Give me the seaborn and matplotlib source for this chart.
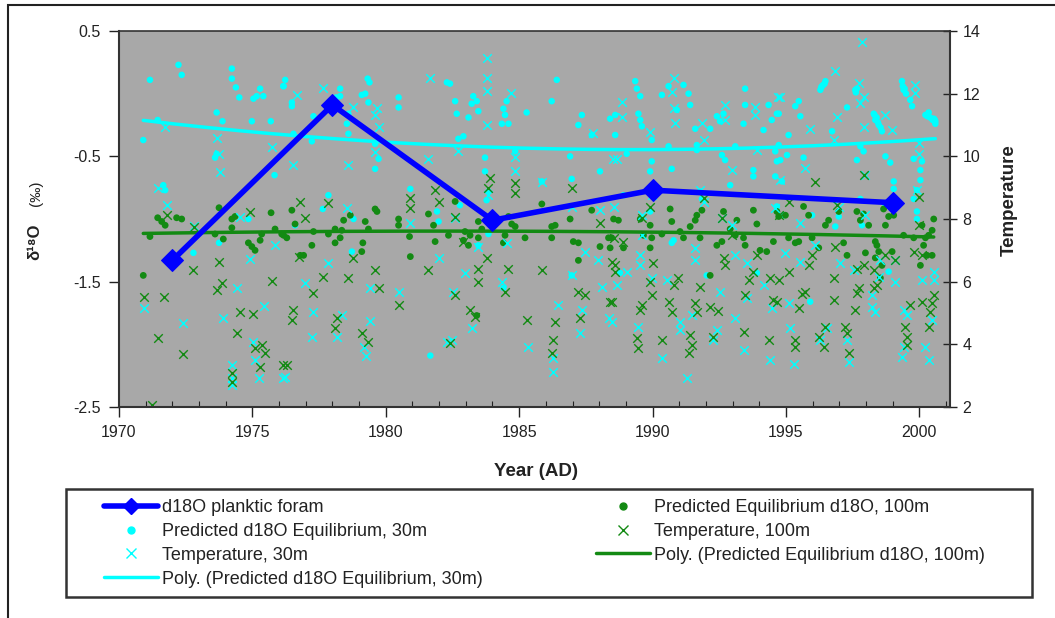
import numpy as np
import pandas as pd
import matplotlib
matplotlib.use("Agg")
import matplotlib.pyplot as plt
import seaborn as sns
from matplotlib.patches import Rectangle
from matplotlib.lines import Line2D

# ---------------- data ----------------
foram_year = [1972, 1978, 1984, 1990, 1999]
foram_d18o = [-1.33, -0.09, -1.01, -0.77, -0.87]

eq30_year = [1971.16, 1972.23, 1972.35, 1974.23, 1974.23, 1974.38, 1974.51, 1975.04, 1975.16, 1975.29, 1975.41, 1976.16,
             1973.66, 1973.88, 1974.98, 1975.69, 1971.45, 1970.91, 1971.66, 1971.73, 1973.60, 1973.66, 1975.83, 1974.85,
             1973.75, 1972.79,
             1976.23, 1976.17, 1976.48, 1976.48, 1977.29, 1978.29, 1978.29, 1978.14, 1979.10, 1979.23, 1979.32, 1979.39,
             1979.35, 1978.60, 1978.54, 1978.60, 1977.23, 1976.54, 1980.48, 1980.48, 1979.60, 1979.73, 1979.60, 1982.29,
             1980.92, 1981.92, 1981.98, 1977.64, 1977.85, 1978.79, 1976.60, 1978.73, 1981.67,
             1982.41, 1982.60, 1982.66, 1983.10, 1983.28, 1983.41, 1983.47, 1983.22, 1984.41, 1984.47, 1984.35, 1984.53,
             1984.60, 1985.28, 1986.41, 1986.22, 1987.35, 1987.22, 1988.41, 1987.72, 1982.72, 1982.91, 1983.72, 1983.72,
             1984.85, 1985.85, 1986.91, 1986.97, 1988.03, 1983.85, 1983.78, 1982.78, 1983.85, 1983.47, 1986.97, 1984.41,
             1989.35, 1989.41, 1989.54, 1989.47, 1989.54, 1989.60, 1989.97, 1990.35, 1990.60, 1991.16, 1991.35, 1991.41,
             1990.91, 1991.60, 1992.16, 1992.41, 1992.66, 1992.53, 1993.47, 1993.47, 1993.41, 1994.35, 1994.47, 1994.66,
             1994.16, 1988.60, 1988.60, 1989.03, 1989.97, 1989.91, 1990.72, 1990.60, 1991.66, 1991.66, 1992.60, 1992.72,
             1993.10, 1994.60, 1994.66, 1993.78, 1993.78, 1994.60, 1992.91, 1991.78, 1991.85, 1988.91, 1990.72, 1990.79,
             1989.91, 1988.78, 1992.03, 1993.91,
             1994.73, 1995.10, 1995.54, 1995.35, 1995.48, 1996.29, 1996.48, 1996.35, 1996.73, 1997.29, 1997.60, 1997.66,
             1998.29, 1998.35, 1998.48, 1998.60, 1999.35, 1999.41, 1999.66, 1999.73, 2000.23, 2000.48, 2000.60, 1994.73,
             1995.04, 1995.66, 1997.66, 1997.79, 1997.91, 1998.73, 1998.91, 1999.79, 2000.10, 2000.04, 2000.04, 1999.04,
             1999.04, 1999.91, 1999.79, 1999.91, 1999.91, 1994.79, 1994.85, 1994.66, 1994.91, 1995.98, 1996.98, 1996.85,
             1997.85, 1998.73, 1995.91, 1998.85, 1996.85, 1997.79,
             1998.32, 1998.40, 1998.45, 1998.55, 2000.30, 2000.40, 2000.50, 2000.55, 2000.60, 1999.38, 1999.50, 1996.40,
             1996.32, 1996.45, 1997.62, 1999.45, 2000.35, 2000.58]
eq30_d18o = [0.11, 0.23, 0.15, 0.20, 0.12, 0.05, -0.03, -0.04, -0.02, 0.04, -0.02, 0.06,
             -0.15, -0.22, -0.22, -0.22, -0.21, -0.37, -0.73, -0.77, -0.51, -0.48, -0.65, -1.00,
             -1.19, -1.27,
             0.11, 0.06, -0.07, -0.10, -0.18, 0.04, -0.02, -0.03, -0.01, 0.00, 0.12, 0.09,
             -0.07, -0.16, -0.24, -0.32, -0.38, -0.32, -0.03, -0.11, -0.40, -0.52, -0.60, 0.09,
             -0.76, -0.94, -1.02, -0.92, -0.81, -1.00, -1.05, -1.26, -2.09,
             0.08, -0.06, -0.16, -0.19, -0.02, -0.06, -0.14, -0.08, -0.12, -0.17, -0.24, -0.06,
             -0.24, -0.15, 0.11, -0.06, -0.17, -0.25, -0.20, -0.33, -0.36, -0.34, -0.51, -0.62,
             -0.46, -0.70, -0.50, -0.68, -0.62, -0.78, -0.85, -0.89, -1.12, -1.21, -1.45, -1.55,
             0.10, 0.04, -0.02, -0.16, -0.21, -0.26, -0.37, -0.01, 0.06, 0.07, 0.00, -0.09,
             -0.13, -0.28, -0.28, -0.18, -0.16, -0.22, 0.04, -0.09, -0.24, -0.09, -0.21, -0.16,
             -0.29, -0.17, -0.33, -0.48, -0.54, -0.62, -0.60, -0.42, -0.41, -0.45, -0.49, -0.53,
             -0.42, -0.46, -0.54, -0.61, -0.66, -0.66, -0.73, -0.78, -0.84, -0.81, -1.19, -1.17,
             -0.94, -1.43, -1.45, -1.43,
             -0.16, -0.33, -0.18, -0.10, -0.06, 0.03, 0.10, 0.06, -0.30, -0.11, 0.03, 0.04,
             -0.16, -0.21, -0.25, -0.30, 0.10, 0.03, -0.05, -0.10, -0.17, -0.20, -0.22, -0.41,
             -0.49, -0.51, -0.53, -0.42, -0.46, -0.50, -0.55, -0.52, -0.54, -0.61, -0.69, -0.70,
             -0.76, -0.77, -0.84, -0.94, -1.00, -0.53, -0.70, -0.90, -0.97, -0.97, -0.98, -1.06,
             -1.05, -0.89, -1.66, -1.42, -0.85, -0.84,
             -0.17, -0.19, -0.23, -0.27, -0.18, -0.19, -0.21, -0.20, -0.24, 0.06, 0.00, 0.07,
             0.05, 0.08, 0.01, 0.04, -0.15, -0.21]

eq100_year = [1970.91, 1971.16, 1971.45, 1971.60, 1971.73, 1972.16, 1972.35, 1973.75, 1973.91, 1974.23, 1974.35, 1974.23,
              1973.60, 1974.85, 1974.98, 1975.10, 1975.29, 1975.35, 1975.70, 1975.85, 1976.10,
              1976.48, 1976.60, 1976.17, 1976.29, 1976.79, 1976.92, 1977.29, 1977.23, 1977.85, 1978.10, 1978.29, 1978.35,
              1978.10, 1978.42, 1978.67, 1979.14, 1979.10, 1979.23, 1979.35, 1979.60, 1979.67, 1980.48, 1980.48, 1980.92,
              1980.89, 1981.60, 1981.85, 1981.79,
              1982.60, 1982.35, 1982.97, 1983.16, 1983.47, 1983.60, 1983.10, 1982.91, 1983.47, 1984.47, 1984.41, 1984.60,
              1984.72, 1984.85, 1985.22, 1985.85, 1986.22, 1986.35, 1986.22, 1986.91, 1987.03, 1987.22, 1987.22, 1987.72,
              1988.03, 1988.35, 1988.41, 1983.41, 1983.85,
              1988.54, 1988.72, 1988.91, 1988.47, 1989.54, 1989.66, 1989.91, 1989.97, 1989.91, 1990.35, 1990.66, 1990.72,
              1991.03, 1991.16, 1991.41, 1991.60, 1991.66, 1991.85, 1991.78, 1992.16, 1992.41, 1992.60, 1992.66, 1992.91,
              1993.16, 1993.10, 1993.41, 1993.47, 1993.78, 1993.91, 1994.03, 1994.28, 1994.53, 1994.66,
              1995.66, 1995.85, 1994.73, 1995.10, 1995.35, 1995.48, 1995.98, 1996.23, 1996.48, 1996.60, 1996.98, 1997.16,
              1997.29, 1997.66, 1997.79, 1997.91, 1997.98, 1998.35, 1998.41, 1998.48, 1998.35, 1998.60, 1998.54, 1998.66,
              1998.85, 1999.04, 1998.73, 1998.98, 1999.41, 1999.79, 2000.10, 2000.35, 2000.48, 2000.54, 2000.23, 2000.29,
              2000.48, 2000.04, 2000.16, 1994.98, 1998.10]
eq100_d18o = [-1.45, -1.14, -0.99, -1.02, -1.05, -0.99, -1.00, -0.91, -1.16, -1.00, -0.98, -1.07,
              -1.12, -1.19, -1.22, -1.25, -1.17, -1.12, -0.95, -1.08, -1.12,
              -0.93, -1.04, -1.13, -1.15, -1.29, -1.29, -1.10, -1.21, -1.12, -1.19, -1.15, -1.09,
              -1.08, -1.01, -0.97, -1.19, -1.26, -1.02, -1.08, -0.92, -0.94, -1.00, -1.05, -1.30,
              -1.14, -0.96, -1.18, -1.05,
              -0.86, -1.13, -1.10, -1.13, -1.02, -1.08, -1.21, -1.17, -1.15, -1.13, -1.19, -0.98,
              -1.04, -1.06, -1.15, -0.88, -1.06, -1.05, -1.15, -1.00, -1.18, -1.19, -1.33, -0.93,
              -1.22, -1.15, -1.23, -1.77, -1.02,
              -1.00, -1.01, -1.23, -1.15, -1.00, -1.13, -1.05, -1.15, -1.23, -1.12, -0.92, -1.02,
              -1.10, -1.15, -1.06, -1.01, -0.97, -0.93, -1.15, -1.45, -1.21, -1.18, -0.94, -1.08,
              -1.01, -1.13, -1.15, -1.21, -0.93, -1.04, -1.25, -1.26, -1.18, -0.94,
              -0.90, -0.97, -0.98, -1.15, -1.19, -1.18, -1.15, -1.23, -1.05, -1.01, -0.94, -1.19,
              -1.29, -0.94, -1.01, -0.96, -1.27, -1.18, -1.21, -1.26, -1.31, -1.37, -1.47, -0.92,
              -0.98, -0.97, -1.05, -1.26, -1.13, -1.15, -1.05, -1.13, -1.09, -1.00, -1.15, -1.29,
              -1.29, -1.37, -1.21, -0.97, -1.05]

temp30_year = [1971.73, 1973.66, 1973.73, 1973.79, 1975.73, 1971.48, 1971.79, 1972.81, 1974.54, 1975.85, 1974.91, 1974.41,
               1970.95, 1972.41, 1973.91, 1975.45, 1975.04, 1975.10, 1975.23, 1974.25, 1974.25, 1974.25, 1976.16,
               1977.66, 1976.67, 1978.79, 1979.67, 1979.60, 1979.73, 1976.54, 1978.60, 1979.60, 1981.60, 1981.67, 1978.54,
               1980.92, 1977.85, 1976.98, 1979.42, 1980.48, 1977.29, 1978.35, 1978.17, 1977.23, 1979.39, 1979.17, 1979.27,
               1976.23, 1981.98, 1982.29,
               1983.78, 1983.78, 1983.78, 1984.69, 1983.78, 1982.72, 1984.85, 1984.85, 1985.85, 1987.78, 1988.53, 1986.97,
               1988.03, 1983.85, 1982.60, 1983.47, 1984.53, 1982.97, 1982.53, 1984.35, 1986.97, 1987.47, 1987.97, 1988.10,
               1986.47, 1987.35, 1983.22, 1982.47, 1987.28, 1988.35, 1985.32, 1986.28, 1986.28,
               1990.79, 1990.72, 1988.85, 1988.85, 1990.79, 1990.85, 1989.91, 1991.85, 1991.91, 1992.72, 1992.72, 1993.85,
               1993.85, 1994.72, 1988.66, 1989.97, 1991.78, 1991.91, 1992.97, 1993.91, 1992.60, 1992.97, 1994.60, 1988.54,
               1989.60, 1989.60, 1989.54, 1989.54, 1989.03, 1988.66, 1989.97, 1991.60, 1991.60, 1993.10, 1993.53, 1994.16,
               1990.53, 1992.53, 1993.53, 1994.47, 1989.47, 1991.03, 1991.03, 1991.47, 1992.41, 1992.28, 1993.10, 1993.41,
               1994.41, 1990.35, 1991.28, 1988.47,
               1997.85, 1996.85, 1997.73, 1997.91, 1997.79, 1999.85, 1999.85, 1994.79, 1996.91, 1995.91, 1997.91, 1998.73,
               1998.98, 1996.79, 1999.98, 1999.98, 1995.73, 1994.79, 1997.98, 1999.91, 1995.54, 1996.98, 1997.98, 1996.10,
               1994.98, 1995.54, 1997.04, 1997.54, 1998.54, 1999.10, 1999.10, 1998.48, 1998.23, 1998.23, 1998.35, 2000.10,
               2000.54, 2000.54, 1995.10, 1995.16, 1995.29, 1996.54, 1996.29, 1997.29, 1997.35, 1999.41, 1999.54, 1999.41,
               1999.35, 2000.48, 2000.23, 2000.35]
temp30_temp = [10.95, 10.59, 10.06, 9.51, 10.31, 8.98, 8.45, 7.79, 8.07, 7.17, 6.71, 5.79,
               5.17, 4.69, 4.85, 5.23, 4.08, 3.50, 2.94, 3.34, 2.91, 2.70, 2.94,
               12.17, 11.96, 11.58, 11.53, 11.32, 10.95, 9.72, 9.72, 10.15, 9.93, 12.49, 8.36,
               7.86, 6.58, 5.95, 5.79, 5.68, 5.02, 4.94, 4.24, 4.24, 4.74, 3.92, 3.64,
               2.97, 6.74, 4.08,
               13.13, 12.51, 12.08, 12.01, 11.00, 10.17, 9.99, 9.54, 9.19, 10.73, 9.93, 8.39,
               8.29, 8.76, 8.02, 7.12, 7.22, 6.27, 5.68, 6.00, 6.21, 6.96, 6.69, 5.84,
               5.25, 5.10, 4.51, 4.14, 4.35, 4.83, 3.92, 3.55, 3.13,
               12.49, 12.06, 11.74, 11.27, 11.53, 11.05, 10.79, 11.05, 10.52, 11.64, 11.16, 11.58,
               11.32, 11.90, 9.93, 8.76, 8.92, 8.55, 9.56, 10.20, 8.02, 7.81, 8.34, 8.39,
               8.13, 7.49, 6.85, 6.53, 6.32, 5.89, 6.11, 7.06, 6.69, 6.85, 6.58, 5.89,
               6.05, 5.68, 5.47, 5.15, 4.56, 4.72, 4.46, 4.94, 4.46, 4.14, 4.83, 3.82,
               3.50, 3.55, 2.91, 4.72,
               13.66, 12.72, 12.33, 11.90, 11.69, 12.28, 12.01, 11.90, 11.27, 10.87, 10.95, 11.32,
               10.84, 10.52, 10.41, 10.09, 9.62, 9.24, 9.40, 8.92, 7.86, 8.39, 8.13, 7.17,
               6.90, 6.64, 6.58, 6.37, 6.69, 6.69, 6.00, 6.16, 5.57, 5.20, 5.04, 6.05,
               6.32, 6.05, 5.31, 4.51, 3.36, 4.51, 4.14, 4.14, 3.45, 5.10, 4.94, 3.92,
               3.60, 4.78, 3.92, 3.50]

temp100_year = [1971.79, 1974.91, 1972.81, 1973.73, 1972.79, 1975.73, 1973.85, 1973.66, 1970.95, 1971.70, 1974.54, 1975.04,
                1974.41, 1971.48, 1972.41, 1975.10, 1975.35, 1975.48, 1975.29, 1974.25, 1974.25, 1976.16, 1971.22,
                1976.79, 1976.98, 1977.85, 1980.92, 1980.92, 1981.85, 1981.98, 1976.73, 1977.66, 1978.60, 1978.79, 1979.60,
                1979.73, 1977.29, 1976.54, 1976.48, 1978.17, 1978.10, 1979.10, 1979.35, 1980.48, 1981.60, 1976.29,
                1983.91, 1983.85, 1984.85, 1984.85, 1986.97, 1982.60, 1988.03, 1982.91, 1983.78, 1983.47, 1983.47, 1985.85,
                1984.60, 1984.47, 1982.60, 1983.16, 1983.35, 1987.22, 1987.47, 1988.41, 1988.47, 1985.28, 1986.35, 1986.28,
                1987.28, 1986.22, 1982.41,
                1989.91, 1991.91, 1989.60, 1988.54, 1992.60, 1992.97, 1988.91, 1988.60, 1988.60, 1990.03, 1989.91, 1989.97,
                1990.79, 1990.97, 1991.78, 1992.66, 1992.72, 1993.91, 1993.78, 1993.60, 1994.41, 1988.47, 1989.60, 1989.54,
                1990.60, 1990.72, 1991.60, 1991.66, 1992.16, 1992.47, 1993.47, 1994.53, 1989.41, 1989.47, 1990.35, 1991.41,
                1991.47, 1991.35, 1992.28, 1993.41, 1994.35,
                1997.91, 1996.08, 2000.00, 1995.10, 1996.91, 1999.98, 1994.73, 1996.85, 1995.98, 1995.85, 1995.10, 1994.73,
                1995.73, 1995.60, 1997.66, 1997.91, 1998.29, 1998.29, 1998.41, 1998.73, 1999.10, 1997.73, 1997.66, 1996.79,
                1999.79, 2000.10, 1996.79, 1997.60, 1995.48, 1994.66, 1999.66, 2000.54, 2000.48, 2000.41, 2000.35, 1995.35,
                1995.35, 1996.23, 1996.41, 1996.48, 1997.23, 1997.29, 1997.35, 1999.48, 1999.54, 1999.54, 2000.10]
temp100_temp = [8.13, 8.23, 7.75, 6.64, 6.37, 6.03, 5.95, 5.73, 5.52, 5.50, 5.02, 4.96,
                4.35, 4.19, 3.69, 3.87, 3.98, 3.71, 3.28, 3.07, 2.81, 3.34, 2.06,
                8.55, 8.02, 8.50, 8.66, 8.36, 8.92, 8.55, 6.80, 6.16, 6.11, 6.74, 6.37,
                5.79, 5.63, 5.10, 4.78, 4.83, 4.51, 4.35, 4.08, 5.25, 6.37, 3.34,
                9.30, 8.98, 9.14, 8.82, 8.98, 8.07, 7.86, 7.28, 6.74, 6.42, 6.00, 6.37,
                6.42, 5.68, 5.57, 5.10, 4.88, 5.68, 5.57, 5.36, 6.64, 4.78, 4.72, 4.14,
                4.83, 3.71, 4.03,
                8.39, 8.66, 8.02, 7.38, 8.02, 7.49, 7.28, 6.53, 6.32, 6.58, 6.00, 5.57,
                5.89, 6.11, 5.84, 6.74, 6.53, 6.85, 6.32, 6.05, 6.11, 5.36, 5.25, 5.10,
                5.36, 5.04, 5.31, 5.04, 5.20, 5.06, 5.57, 5.41, 4.19, 3.87, 4.14, 4.30,
                3.98, 3.71, 4.24, 4.40, 4.14,
                9.40, 9.19, 8.71, 8.55, 8.45, 7.81, 8.13, 7.12, 6.85, 6.53, 6.32, 6.05,
                5.68, 5.60, 6.42, 6.53, 6.37, 5.79, 5.89, 6.85, 6.69, 5.79, 5.63, 6.11,
                6.96, 6.85, 5.41, 5.10, 5.15, 5.36, 5.25, 5.57, 5.31, 5.04, 4.56, 4.14,
                3.92, 4.24, 3.92, 4.56, 4.56, 4.35, 3.71, 4.56, 4.24, 3.98, 5.36]

x_ticks = [1970, 1975, 1980, 1985, 1990, 1995, 2000]
left_ticks = [0.5, -0.5, -1.5, -2.5]
left_tick_labels = ["0.5", "-0.5", "-1.5", "-2.5"]
right_ticks = [2, 4, 6, 8, 10, 12, 14]

legend_labels_col1 = ["d18O planktic foram", "Predicted d18O Equilibrium, 30m",
                      "Temperature, 30m", "Poly. (Predicted d18O Equilibrium, 30m)"]
legend_labels_col2 = ["Predicted Equilibrium d18O, 100m", "Temperature, 100m",
                      "Poly. (Predicted Equilibrium d18O, 100m)"]

# ---------------- style ----------------
sns.set_theme(style="white")
plt.rcParams["font.family"] = ["Liberation Sans", "DejaVu Sans"]

C_CYAN = "#00FFFF"
C_GREEN = "#138A13"
C_BLUE = "#0000FF"
C_TXT = "#222222"

W, H = 1055, 618
fig = plt.figure(figsize=(W / 100, H / 100), dpi=100)
ax = fig.add_axes([119 / W, 1 - 407 / H, (950 - 119) / W, (407 - 31) / H])
ax2 = ax.twinx()
ax.set_facecolor("#A8A8A8")
ax.set_zorder(1)
ax2.set_zorder(2)
ax2.patch.set_visible(False)

df30 = pd.DataFrame({"year": eq30_year, "d18o": eq30_d18o})
df100 = pd.DataFrame({"year": eq100_year, "d18o": eq100_d18o})
dt30 = pd.DataFrame({"year": temp30_year, "temp": temp30_temp})
dt100 = pd.DataFrame({"year": temp100_year, "temp": temp100_temp})
dfor = pd.DataFrame({"year": foram_year, "d18o": foram_d18o})

ax.set_ylim(-2.5, 0.5)
ax.set_xlim(1970, 2001.15)
ax2.set_ylim(2, 14)

# equilibrium dots (left axis)
sns.scatterplot(data=df30, x="year", y="d18o", ax=ax, marker="o", s=22, color=C_CYAN,
                edgecolor="none", legend=False, zorder=3)
sns.scatterplot(data=df100, x="year", y="d18o", ax=ax, marker="o", s=24, color=C_GREEN,
                edgecolor="none", legend=False, zorder=3)

# temperature crosses (right axis)
sns.scatterplot(data=dt30, x="year", y="temp", ax=ax2, marker="x", s=38, color=C_CYAN,
                linewidth=1.0, legend=False, zorder=2)
sns.scatterplot(data=dt100, x="year", y="temp", ax=ax2, marker="x", s=38, color=C_GREEN,
                linewidth=1.0, legend=False, zorder=2)

# polynomial (order 2) trendlines, as Excel "Poly." trendlines
def poly_trend(xs, ys):
    c = np.polyfit(np.asarray(xs) - 1985, ys, 2)
    xx = np.linspace(min(xs), max(xs), 200)
    return xx, np.polyval(c, xx - 1985)

xx30, yy30 = poly_trend(eq30_year, eq30_d18o)
xx100, yy100 = poly_trend(eq100_year, eq100_d18o)

tr = ax.transData  # left-axis coordinates, drawn above the crosses
ax2.plot(xx30, yy30, color=C_CYAN, lw=2.5, transform=tr, zorder=4)
ax2.plot(xx100, yy100, color=C_GREEN, lw=2.5, transform=tr, zorder=4)
sns.lineplot(data=dfor, x="year", y="d18o", ax=ax2, color=C_BLUE, lw=4, marker="D",
             markersize=11, markeredgecolor=C_BLUE, transform=tr, zorder=5, legend=False)
ax2.set_ylim(2, 14)
ax.set_ylim(-2.5, 0.5)
ax.set_xlim(1970, 2001.15)

# axes styling
ax.set_xticks(x_ticks)
ax.set_xticks(np.arange(1970, 2002, 1), minor=True)
ax.set_yticks(left_ticks)
ax.set_yticklabels(left_tick_labels)
ax2.set_yticks(right_ticks)
ax.tick_params(axis="x", which="major", direction="out", length=7, width=1, colors=C_TXT,
               labelsize=11.5, pad=6, bottom=True)
ax.tick_params(axis="x", which="minor", direction="in", length=4, width=0.8, colors=C_TXT, bottom=True)
ax.tick_params(axis="y", which="major", direction="out", length=7, width=1, colors=C_TXT,
               labelsize=11.5, pad=6, left=True)
ax2.tick_params(axis="y", which="major", direction="inout", length=10, width=1, colors=C_TXT,
                labelsize=11.5, pad=4, right=True)
for a in (ax, ax2):
    for sp in a.spines.values():
        sp.set_visible(False)
for side, lw in (("left", 1.5), ("bottom", 1.5), ("right", 1.5), ("top", 1.2)):
    ax2.spines[side].set_visible(True)
    ax2.spines[side].set_color("#333333")
    ax2.spines[side].set_linewidth(lw)
ax.set_xlabel("")
ax.set_ylabel("")
ax2.set_ylabel("")

# axis titles
fig.text(536 / W, 1 - 471 / H, "Year (AD)", ha="center", va="center", fontsize=13.5,
         fontweight="bold", color=C_TXT)
fig.text(35 / W, 1 - 242 / H, "δ¹⁸O", ha="center", va="center", rotation=90,
         fontsize=12, fontweight="bold", color=C_TXT)
fig.text(36 / W, 1 - 193 / H, "(‰)", ha="center", va="center", rotation=90,
         fontsize=11, color=C_TXT)
fig.text(1009 / W, 1 - 200 / H, "Temperature", ha="center", va="center", rotation=90,
         fontsize=13.5, fontweight="bold", color=C_TXT)

# legend: frame drawn separately, two columns placed independently
h_col1 = [
    Line2D([], [], color=C_BLUE, lw=4, marker="D", markersize=8),
    Line2D([], [], color=C_CYAN, lw=0, marker="o", markersize=5),
    Line2D([], [], color=C_CYAN, lw=0, marker="x", markersize=7, markeredgewidth=1),
    Line2D([], [], color=C_CYAN, lw=2.5),
]
h_col2 = [
    Line2D([], [], color=C_GREEN, lw=0, marker="o", markersize=5),
    Line2D([], [], color=C_GREEN, lw=0, marker="x", markersize=7, markeredgewidth=1),
    Line2D([], [], color=C_GREEN, lw=2.5),
]
leg_kw = dict(loc="upper left", frameon=False, fontsize=13, handlelength=3.0,
              handletextpad=0.2, labelspacing=0.38, borderpad=0, borderaxespad=0,
              labelcolor=C_TXT)
leg1 = fig.legend(h_col1, legend_labels_col1, bbox_to_anchor=(104 / W, 1 - 499 / H), **leg_kw)
leg2 = fig.legend(h_col2, legend_labels_col2, bbox_to_anchor=(596 / W, 1 - 499 / H), **leg_kw)

fig.patches.append(Rectangle((66 / W, 1 - 597 / H), (1032 - 66) / W, (597 - 489) / H,
                             transform=fig.transFigure, fill=False, edgecolor="#333333", lw=1.8))
# outer chart border
fig.patches.append(Rectangle((8 / W, -0.1), 1.2, 1 - 5 / H + 0.1, transform=fig.transFigure,
                             fill=False, edgecolor=C_TXT, lw=1.5, zorder=0))

fig.savefig("out.png", dpi=100, facecolor="white")
